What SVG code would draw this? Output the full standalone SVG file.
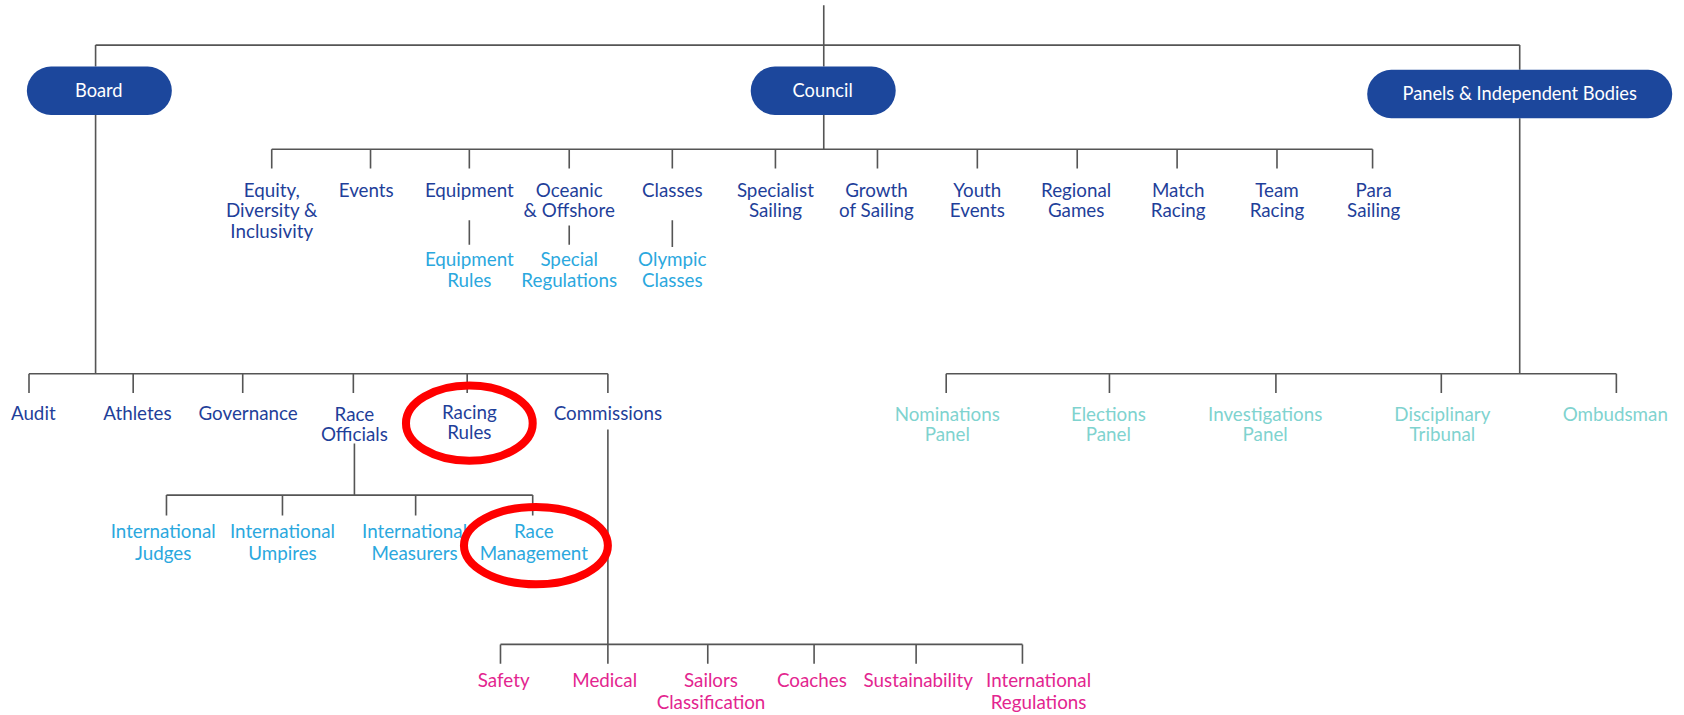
<svg xmlns="http://www.w3.org/2000/svg" width="1684" height="715" viewBox="0 0 1684 715">
<style>
text{font-family:"Lato","Open Sans","Liberation Sans",sans-serif;font-size:17.5px;text-anchor:middle}
.box{fill:#1c479c}
.bt{fill:#ffffff;font-size:17px}
.dk{fill:#1f3f9a}
.lb{fill:#2ba8de}
.pk{fill:#e3258f}
.tl{fill:#7fd3cf}
.ln{stroke:#555;stroke-width:1.5;fill:none}
.ring{fill:none;stroke:#ff0000;stroke-width:7.5}
</style>
<rect width="1684" height="715" fill="#ffffff"/>
<g transform="scale(1.074)">
<g id="connectors" class="ln">
<path d="M767 5V62M89 42H1415M89 42V62M1415 42V65"/>
<path d="M767 107V139M253 139H1278M253 139V157M345 139V157M437 139V157M530 139V157M626 139V157M722 139V157M817 139V157M910 139V157M1003 139V157M1096 139V157M1189 139V157M1278 139V157"/>
<path d="M437 205V228M530 210V228M626 205V230"/>
<path d="M89 107V348M27 348H566M27 348V366M124 348V366M226 348V366M329 348V366M435 348V366M566 348V366"/>
<path d="M330 413V461M155 461H496M155 461V480M263 461V480M387 461V480M496 461V480"/>
<path d="M566 400V600M466 600H952M466 600V618M566 600V618M659 600V618M758 600V618M853 600V618M952 600V618"/>
<path d="M1415 110V348M881 348H1505M881 348V366M1033 348V366M1188 348V366M1342 348V366M1505 348V366"/>
</g>
<g id="board"><rect class="box" x="25" y="62" width="135" height="45" rx="22.5"/><text class="bt" x="92" y="90">Board</text></g>
<g id="council"><rect class="box" x="699" y="62" width="135" height="45" rx="22.5"/><text class="bt" x="766" y="90">Council</text></g>
<g id="panels"><rect class="box" x="1273" y="65" width="284" height="45" rx="22.5"/><text class="bt" x="1415" y="93">Panels &amp; Independent Bodies</text></g>

<g id="equity"><text class="dk" x="253" y="183">Equity,</text><text class="dk" x="253" y="202">Diversity &amp;</text><text class="dk" x="253" y="222">Inclusivity</text></g>
<g id="events"><text class="dk" x="341" y="183">Events</text></g>
<g id="equipment"><text class="dk" x="437" y="183">Equipment</text></g>
<g id="oceanic"><text class="dk" x="530" y="183">Oceanic</text><text class="dk" x="530" y="202">&amp; Offshore</text></g>
<g id="classes"><text class="dk" x="626" y="183">Classes</text></g>
<g id="specialist"><text class="dk" x="722" y="183">Specialist</text><text class="dk" x="722" y="202">Sailing</text></g>
<g id="growth"><text class="dk" x="816" y="183">Growth</text><text class="dk" x="816" y="202">of Sailing</text></g>
<g id="youth"><text class="dk" x="910" y="183">Youth</text><text class="dk" x="910" y="202">Events</text></g>
<g id="regional"><text class="dk" x="1002" y="183">Regional</text><text class="dk" x="1002" y="202">Games</text></g>
<g id="match"><text class="dk" x="1097" y="183">Match</text><text class="dk" x="1097" y="202">Racing</text></g>
<g id="team"><text class="dk" x="1189" y="183">Team</text><text class="dk" x="1189" y="202">Racing</text></g>
<g id="para"><text class="dk" x="1279" y="183">Para</text><text class="dk" x="1279" y="202">Sailing</text></g>

<g id="equipment-rules"><text class="lb" x="437" y="248">Equipment</text><text class="lb" x="437" y="267">Rules</text></g>
<g id="special-regs"><text class="lb" x="530" y="248">Special</text><text class="lb" x="530" y="267">Regulations</text></g>
<g id="olympic"><text class="lb" x="626" y="248">Olympic</text><text class="lb" x="626" y="267">Classes</text></g>

<g id="audit"><text class="dk" x="31" y="391">Audit</text></g>
<g id="athletes"><text class="dk" x="128" y="391">Athletes</text></g>
<g id="governance"><text class="dk" x="231" y="391">Governance</text></g>
<g id="race-officials"><text class="dk" x="330" y="392">Race</text><text class="dk" x="330" y="411">Officials</text></g>
<g id="racing-rules"><text class="dk" x="437" y="390">Racing</text><text class="dk" x="437" y="409">Rules</text></g>
<g id="commissions"><text class="dk" x="566" y="391">Commissions</text></g>

<g id="intl-judges"><text class="lb" x="152" y="501">International</text><text class="lb" x="152" y="521">Judges</text></g>
<g id="intl-umpires"><text class="lb" x="263" y="501">International</text><text class="lb" x="263" y="521">Umpires</text></g>
<g id="intl-measurers"><text class="lb" x="386" y="501">International</text><text class="lb" x="386" y="521">Measurers</text></g>
<g id="race-management"><text class="lb" x="497" y="501">Race</text><text class="lb" x="497" y="521">Management</text></g>

<g id="safety"><text class="pk" x="469" y="640">Safety</text></g>
<g id="medical"><text class="pk" x="563" y="640">Medical</text></g>
<g id="sailors-class"><text class="pk" x="662" y="640">Sailors</text><text class="pk" x="662" y="660">Classification</text></g>
<g id="coaches"><text class="pk" x="756" y="640">Coaches</text></g>
<g id="sustainability"><text class="pk" x="855" y="640">Sustainability</text></g>
<g id="intl-regs"><text class="pk" x="967" y="640">International</text><text class="pk" x="967" y="660">Regulations</text></g>

<g id="nominations"><text class="tl" x="882" y="392">Nominations</text><text class="tl" x="882" y="411">Panel</text></g>
<g id="elections"><text class="tl" x="1032" y="392">Elections</text><text class="tl" x="1032" y="411">Panel</text></g>
<g id="investigations"><text class="tl" x="1178" y="392">Investigations</text><text class="tl" x="1178" y="411">Panel</text></g>
<g id="disciplinary"><text class="tl" x="1343" y="392">Disciplinary</text><text class="tl" x="1343" y="411">Tribunal</text></g>
<g id="ombudsman"><text class="tl" x="1504" y="392">Ombudsman</text></g>

<g id="highlights">
<ellipse class="ring" cx="437" cy="394" rx="59" ry="35"/>
<ellipse class="ring" cx="499" cy="508" rx="67" ry="36"/>
</g>
</g>
</svg>
